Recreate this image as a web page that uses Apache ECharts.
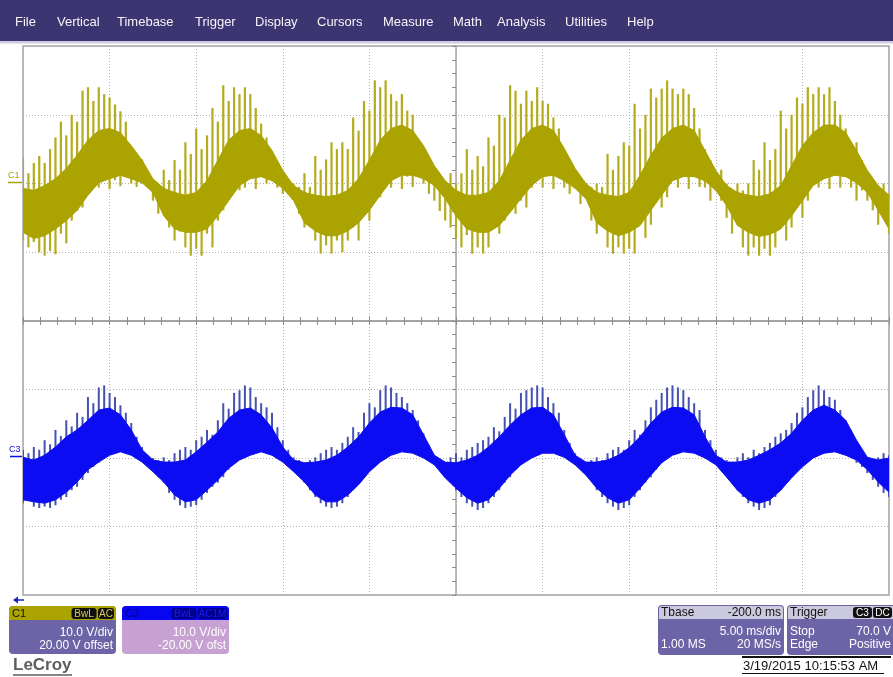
<!DOCTYPE html>
<html><head><meta charset="utf-8">
<script src="https://cdn.jsdelivr.net/npm/echarts@6/dist/echarts.min.js"></script>
<style>html,body{margin:0;padding:0;background:#fff;overflow:hidden}#main{width:893px;height:677px}</style>
</head><body><div id="main"></div>
<script>
// ---- Data (volts, read from the screen) ----
// time window of the screen, ms relative to trigger delay (-200 ms), 5 ms/div
const timeStartMs = -25, timeEndMs = 25;
// C1: peak-detected spike extremes (161 samples across the screen)
const c1SpikeTop = [3.8,1.5,3,4,3,5,6.7,9,7,10,
 9,13.5,14,12,14,13,12.5,11.5,10.5,9,
 5,4.3,3.5,1.5,0.5,-0.5,2,0.5,3.4,2,
 6,4.3,8,5,7,11,9,14.3,12,14,
 13,14,13,11,8.7,6.7,4.3,1.5,0,-1,
 0,-0.5,1.5,-0.5,4,2,3.5,6,5,6,
 5,9.6,7.7,12,10.6,15,14,15,13,12,
 13,10.6,10,6.3,3.8,1,0.5,-1,0,1.5,
 0,1.5,5,2,4,2.5,6.7,5.5,10,9.6,
 14.3,13.5,11.6,13.5,12,14,12,11.6,9.6,8,
 4.8,3.4,0,-1,0,-0.5,0,-0.5,4.3,2,
 4,6,5.5,11.6,8,10,13.8,12.5,13.8,15,
 13.8,13,13.8,13,11,8,5,3.4,0.5,2,
 0,-1.5,0,-1,0,3.4,2,6,3.4,5,
 10.6,8,10,12.5,11.6,14,13,14,13,14,
 12,10,8,5,6,3.4,1.5,0,-1.5,0,
 -1.5];
const c1SpikeBot = [-8.3,-9.3,-8.5,-10,-10.5,-9.8,-10.3,-7.3,-8.7,-5.4,
 -4,-3.5,-1,-0.6,-0.6,1,-0.8,0.5,-0.4,1,
 0,-0.5,0,-0.5,-2.5,-4.4,-3.5,-6.4,-8.3,-7,
 -9.3,-10.5,-9.5,-10.5,-7.3,-9.3,-5.4,-3.9,-1.5,-0.6,
 -1,-0.6,1.5,-0.8,1,0,0.5,-0.6,-1.5,-0.6,
 -1.5,-4.4,-6.4,-5,-8.3,-10.2,-9,-10.2,-8.3,-10,
 -8.3,-6.4,-8.3,-3.5,-5.4,-0.6,-2,-0.6,-0.6,1.5,
 -0.8,1,-0.5,1.5,0,-1.5,-2.5,-4,-5.4,-6.4,
 -8,-9.3,-7.5,-10.2,-9.3,-10.2,-9.3,-5.4,-7.3,-5.4,
 -2.5,-4.4,-2.5,-3.5,-0.6,2.3,-0.6,1.5,-0.8,1.5,
 -0.6,-1.5,-0.6,-3,-2,-5.4,-7.3,-6,-9.3,-10.2,
 -9.3,-10.2,-9.5,-10.2,-5.4,-7.9,-6,-1.5,-3.5,-2,
 1.9,-0.6,1.5,-0.8,1.9,-0.5,-0.6,-2.5,-1,-2.5,
 -5,-7.3,-6,-9.3,-10.5,-9.3,-10.5,-9.5,-10.5,-9.3,
 -6.4,-8.3,-6.4,-2.5,-5,-2.5,1.9,-0.6,1.5,-0.8,
 1.9,-0.6,1,-0.6,-2.5,-1,-2.5,-3.9,-6,-5,
 -7.3];
// C1: dense core of the trace (81 samples)
const c1CoreTop = [-0.7,-1.0,-0.3,0.7,2.2,4.1,6.3,7.7,8.0,7.4,
 5.5,3.4,0.7,-0.7,-1.3,-1.7,-1.3,0.4,3.4,6.3,
 7.7,8.0,7.0,4.8,1.9,-0.3,-1.3,-1.7,-1.9,-1.7,
 -1.0,0.7,3.4,6.3,8.0,8.5,7.7,5.5,2.6,0.4,
 -1.0,-1.7,-1.7,-1.3,0.4,3.4,6.3,8.0,8.5,7.7,
 5.1,2.2,0,-1.3,-1.7,-1.9,-1.3,1.2,4.1,6.6,
 8.0,8.5,7.7,4.8,1.9,-0.3,-1.3,-1.7,-1.9,-1.5,
 -0.3,2.6,5.5,7.4,8.5,8.5,7.4,4.8,1.9,-0.3,
 -1.7];
const c1CoreBot = [-7.1,-8.0,-7.6,-6.6,-5.4,-3.9,-1.7,0.1,0.7,1.2,
 0.7,0.1,-1.3,-4.7,-6.6,-7.1,-7.1,-6.6,-4.7,-2.5,
 -0.3,0.7,1.0,0.4,-0.7,-2.5,-5.7,-6.9,-7.6,-7.6,
 -6.9,-5.7,-3.9,-1.7,0.4,1.2,1.2,0.7,-0.3,-2.2,
 -4.7,-6.6,-7.1,-7.1,-6.1,-4.2,-2.2,-0.3,1.0,1.2,
 0.4,-0.7,-2.2,-5.7,-6.9,-7.6,-7.1,-6.1,-3.9,-1.7,
 0.4,1.0,1.0,0.4,-1.0,-3.2,-6.1,-7.1,-7.7,-7.4,
 -6.6,-4.7,-2.5,-0.3,0.7,1.2,1.0,0.1,-1.3,-3.9,
 -6.6];
// C3
const c3SpikeTop = [1.2,0.7,1.6,1.2,2.6,2.0,4.1,3.2,5.5,4.6,
 6.6,6.0,8.9,8.0,10.3,10.6,9.5,8.9,7.7,6.6,
 5.1,3.1,1.6,0.4,0,-0.3,0.1,-0.3,0.7,1.2,
 1.6,1.2,2.6,3.1,4.1,3.4,5.5,8.0,7.2,9.5,
 9.9,10.6,10.3,8.9,8.0,7.4,6.6,4.5,2.6,1.2,
 0.1,-0.3,-0.7,-0.3,0.1,0.7,1.2,1.6,1.2,2.2,
 3.1,4.5,3.8,6.6,8.0,7.4,9.9,10.6,10.3,9.5,
 8.9,8.0,7.0,5.5,3.6,1.9,0.1,-0.3,-0.7,0.1,
 0.7,0.1,1.2,1.6,2.2,2.6,3.1,4.5,3.9,6.0,
 8.0,7.2,9.5,9.9,10.3,10.6,10.3,8.9,8.0,6.6,
 4.1,2.2,0.7,-0.3,-0.7,-0.3,0.1,-0.3,0.7,1.2,
 1.6,1.2,2.6,4.1,3.4,5.5,7.4,8.5,9.5,10.3,
 10.6,10.3,9.9,8.9,8.0,7.0,4.1,2.6,1.2,0.1,
 -0.3,-0.7,0.1,0.7,0.1,1.2,0.7,1.6,2.2,3.1,
 3.6,4.1,5.1,6.6,7.4,8.9,9.9,10.6,9.9,8.9,
 8.5,7.0,5.5,4.1,2.2,0.7,0.1,-0.3,0.1,0.7,
 0.4];
const c3SpikeBot = [-6.6,-6.1,-7.1,-7.3,-7.1,-7.3,-6.9,-6.1,-5.7,-4.7,
 -4.2,-3.2,-2.2,-1.3,-0.7,0.1,0.7,1.2,1.5,1.6,
 1.2,0.4,-0.3,-1.0,-1.7,-2.8,-3.6,-5.1,-6.1,-6.9,
 -7.3,-7.1,-6.9,-6.1,-5.1,-4.2,-3.6,-2.8,-1.7,-0.7,
 -0.3,0.4,0.7,1.2,1.6,1.2,0.7,0.1,-0.3,-1.0,
 -1.7,-2.2,-3.6,-4.7,-5.7,-6.6,-7.1,-7.3,-7.1,-6.6,
 -5.7,-4.7,-3.6,-2.8,-1.7,-0.7,0.1,0.7,1.2,1.5,
 1.6,1.6,1.2,0.7,0.1,-0.3,-1.0,-1.7,-2.8,-3.6,
 -4.7,-5.7,-6.6,-7.1,-7.6,-7.3,-6.6,-5.7,-4.7,-3.6,
 -2.8,-1.7,-1.0,-0.3,0.4,0.9,1.2,1.6,1.2,0.7,
 0.4,-0.3,-0.7,-1.3,-2.2,-3.2,-4.7,-5.7,-6.6,-7.1,
 -7.6,-7.3,-6.9,-5.7,-4.7,-3.6,-2.8,-1.7,-0.7,0.1,
 0.7,1.2,1.6,1.5,1.2,0.7,0.4,-0.3,-0.7,-1.3,
 -2.2,-3.2,-4.7,-5.7,-6.6,-7.1,-7.6,-7.3,-6.9,-5.7,
 -4.7,-3.6,-2.8,-1.7,-1.0,0.1,0.7,1.2,1.6,1.5,
 1.2,0.7,0.4,0,-0.7,-1.3,-2.2,-3.2,-4.2,-5.1,
 -5.7];
const c3CoreTop = [0.1,-0.3,0.4,1.6,3.1,4.1,5.5,7.0,7.3,6.3,
 4.1,1.2,-0.3,-0.6,-0.6,-0.3,0.9,2.3,3.8,5.8,
 7.0,7.3,6.3,4.4,1.6,-0.3,-0.7,-0.6,-0.3,0.4,
 1.6,3.1,5.1,6.7,7.4,7.3,6.3,3.4,0.4,-0.6,
 -0.7,-0.3,0.4,1.6,3.1,4.8,6.3,7.3,7.4,6.3,
 3.4,0.4,-0.6,-0.6,-0.3,0.4,1.5,3.1,5.1,6.7,
 7.4,7.3,6.3,3.1,0.4,-0.6,-0.6,-0.3,0.4,1.2,
 2.2,3.6,5.5,7.0,7.7,7.0,5.5,2.6,0.1,-0.3,
 0];
const c3CoreBot = [-6.1,-6.4,-6.6,-6.1,-5.0,-3.5,-1.7,-0.6,0.4,0.9,
 0.4,-0.6,-2.0,-3.5,-5.4,-6.4,-6.1,-4.7,-3.2,-1.5,
 -0.3,0.4,0.9,0.4,-0.6,-2.0,-3.5,-5.4,-6.4,-6.4,
 -5.4,-3.9,-2.0,-0.6,0.4,0.9,0.7,0,-1.0,-2.9,
 -4.4,-5.8,-6.6,-6.1,-4.4,-2.5,-1.0,0,0.7,0.7,
 0.1,-1.0,-2.5,-4.4,-5.8,-6.6,-6.1,-4.4,-2.5,-0.7,
 0.4,0.9,0.7,0,-1.0,-2.8,-4.7,-6.1,-6.6,-6.1,
 -4.7,-2.9,-1.3,0,0.7,0.9,0.4,-0.3,-1.7,-3.5,
 -5.0];
const menuItems = ['File','Vertical','Timebase','Trigger','Display','Cursors','Measure','Math','Analysis','Utilities','Help'];
const c1Info = {name:'C1', badges:['BwL','AC'], vdiv:'10.0 V/div', offset:'20.00 V offset'};
const c3Info = {name:'C3', badges:['BwL','AC1M'], vdiv:'10.0 V/div', offset:'-20.00 V ofst'};
const tbaseInfo = {title:'Tbase', delay:'-200.0 ms', tdiv:'5.00 ms/div', mem:'1.00 MS', rate:'20 MS/s'};
const trigInfo = {title:'Trigger', badges:['C3','DC'], mode:'Stop', level:'70.0 V', type:'Edge', slope:'Positive'};
const timestamp = '3/19/2015 10:15:53 AM';

// ---- Layout / style ----
const FONT = "'Liberation Sans', Arial, sans-serif";
const menuX = [15,57,117,195,255,317,383,453,497,565,627];
const C1COL = '#aba300', C1SPK = '#b4ac1e';
const C3COL = '#0c0cf2', C3SPK = '#4552b2';
const GRIDC = '#a4a4a4';

function timesFor(arr){ const st=(timeEndMs-timeStartMs)/(arr.length-1); return arr.map((v,i)=>timeStartMs+i*st); }

function bandSeries(gi, tops, bots, color, z){
  const ts = timesFor(tops);
  return {type:'custom', xAxisIndex:gi, yAxisIndex:gi, z:z, silent:true, clip:true,
    data: tops.map((v,i)=>[ts[i], bots[i], v]), encode:{x:0,y:[1,2]},
    renderItem:function(params, api){
      if (params.dataIndex !== 0) return {type:'group', children:[]};
      const pts=[];
      for (let i=0;i<tops.length;i++) pts.push(api.coord([ts[i], tops[i]]));
      for (let i=bots.length-1;i>=0;i--) pts.push(api.coord([ts[i], bots[i]]));
      return {type:'polygon', shape:{points:pts}, style:{fill:color, stroke:color, lineWidth:1}};
    }};
}
function spikeSeries(gi, tops, bots, color, w, z){
  const ts = timesFor(tops);
  return {type:'custom', xAxisIndex:gi, yAxisIndex:gi, z:z, silent:true, clip:true,
    data: tops.map((v,i)=>[ts[i], bots[i], v]), encode:{x:0,y:[1,2]},
    renderItem:function(params, api){
      const a=api.coord([api.value(0), api.value(1)]), b=api.coord([api.value(0), api.value(2)]);
      return {type:'line', shape:{x1:a[0],y1:a[1],x2:b[0],y2:b[1]}, style:{stroke:color, lineWidth:w}};
    }};
}
function xAx(gi,pos){
  return {gridIndex:gi, type:'value', min:timeStartMs, max:timeEndMs, interval:5, position:pos,
    axisLine:{show:true,onZero:false,lineStyle:{color:GRIDC,width:1.5}},
    axisTick:{show:true,inside:true,length:4,lineStyle:{color:'#8c8c8c'}},
    minorTick:{show:true,splitNumber:5,length:4,lineStyle:{color:'#8c8c8c'}},
    axisLabel:{show:false},
    splitLine:{show:true,lineStyle:{color:'#b0b0b0',type:[1,2],width:1}}};
}
function yAx(gi){
  return {gridIndex:gi, type:'value', min:-20, max:20, interval:10,
    axisLine:{show:true,onZero:true,lineStyle:{color:GRIDC,width:1.5}},
    axisTick:{show:true,length:4,lineStyle:{color:'#8c8c8c'}},
    minorTick:{show:true,splitNumber:5,length:4,lineStyle:{color:'#8c8c8c'}},
    axisLabel:{show:false},
    splitLine:{show:true,lineStyle:{color:'#b0b0b0',type:[1,2],width:1}}};
}
function txt(x,y,t,opt){
  return Object.assign({type:'text', x:x, y:y, silent:true,
    style:Object.assign({text:t, font:'12px '+FONT, fill:'#fff', verticalAlign:'middle'}, opt||{})});
}
function badge(x,y,w,t,bg,fg){
  return [{type:'rect', shape:{x:x,y:y,width:w,height:11,r:3}, style:{fill:bg}},
    txt(x+w/2,y+6,t,{font:'10px '+FONT, fill:fg, align:'center'})];
}
function chanBox(left, info, headCol, bodyCol, headText, badgeBg, badgeFg, bw){
  const ch=[{type:'rect', shape:{x:0,y:0,width:107,height:48,r:4}, style:{fill:bodyCol}},
    {type:'rect', shape:{x:0,y:0,width:107,height:14,r:[4,4,0,0]}, style:{fill:headCol}},
    txt(3,7.5,info.name,{font:'11px '+FONT, fill:headText})];
  let bx=105;
  for (let k=info.badges.length-1;k>=0;k--){ bx-=bw[k]; ch.push(...badge(bx,2,bw[k],info.badges[k],badgeBg,badgeFg)); bx-=1.5; }
  ch.push(txt(104,27,info.vdiv,{align:'right'}));
  ch.push(txt(104,40,info.offset,{align:'right'}));
  return {type:'group', x:left, y:606, children:ch};
}

const graphic = [
  {type:'rect', shape:{x:0,y:0,width:893,height:41}, style:{fill:'#3d3571'}, silent:true},
  {type:'rect', shape:{x:0,y:41,width:893,height:2.5}, style:{fill:'#cfcde0'}, silent:true},
];
menuItems.forEach((m,k)=>graphic.push(txt(menuX[k],22,m,{font:'13px '+FONT, fill:'#f4f4f8'})));
// channel ground markers
graphic.push(txt(8,176,'C1',{font:'9px '+FONT, fill:C1COL}));
graphic.push({type:'line', shape:{x1:8,y1:182.5,x2:22,y2:182.5}, style:{stroke:C1COL,lineWidth:1.5}});
graphic.push(txt(9,450,'C3',{font:'9px '+FONT, fill:C3COL}));
graphic.push({type:'line', shape:{x1:10,y1:456.5,x2:22,y2:456.5}, style:{stroke:C3COL,lineWidth:1.5}});
// arrow
graphic.push({type:'line', shape:{x1:14,y1:600,x2:24,y2:600}, style:{stroke:'#2020c0',lineWidth:1.5}});
graphic.push({type:'polygon', shape:{points:[[13,600],[18,596.5],[18,603.5]]}, style:{fill:'#2020c0'}});
// channel boxes
graphic.push(chanBox(9, c1Info, C1COL, '#6c64a6', '#111', '#111', '#d2cb55', [25,16]));
graphic.push(chanBox(122, c3Info, '#0606f0', '#c7a1d1', '#00008a', '#000090', '#1a1af0', [25,29]));
// timebase box
graphic.push({type:'group', x:658, y:605, children:[
  {type:'rect', shape:{x:0,y:0,width:126,height:50,r:4}, style:{fill:'#6c64a6'}},
  {type:'rect', shape:{x:1,y:1,width:124,height:13,r:[3,3,0,0]}, style:{fill:'#cbc9dd'}},
  txt(3,8,tbaseInfo.title,{fill:'#111'}),
  txt(123,8,tbaseInfo.delay,{fill:'#111',align:'right'}),
  txt(123,27,tbaseInfo.tdiv,{align:'right'}),
  txt(3,40,tbaseInfo.mem,{}),
  txt(123,40,tbaseInfo.rate,{align:'right'})
]});
// trigger box
const trig = [{type:'rect', shape:{x:0,y:0,width:110,height:50,r:4}, style:{fill:'#6c64a6'}},
  {type:'rect', shape:{x:1,y:1,width:108,height:13,r:[3,3,0,0]}, style:{fill:'#cbc9dd'}},
  txt(3,8,trigInfo.title,{fill:'#111'})];
trig.push(...badge(66,2,19,trigInfo.badges[0],'#111','#fff'));
trig.push(...badge(86,2,19,trigInfo.badges[1],'#111','#fff'));
trig.push(txt(3,27,trigInfo.mode,{}), txt(104,27,trigInfo.level,{align:'right'}),
  txt(3,40,trigInfo.type,{}), txt(104,40,trigInfo.slope,{align:'right'}));
graphic.push({type:'group', x:787, y:605, children:trig});
// timestamp
graphic.push({type:'line', shape:{x1:742,y1:657,x2:891,y2:657}, style:{stroke:'#111',lineWidth:2}});
graphic.push(txt(743,666,timestamp,{font:'13px '+FONT, fill:'#111'}));
graphic.push({type:'line', shape:{x1:742,y1:673.5,x2:884,y2:673.5}, style:{stroke:'#111',lineWidth:1.2}});
// logo
graphic.push(txt(13,665,'LeCroy',{font:'bold 17px '+FONT, fill:'#5e5e5e'}));
graphic.push({type:'line', shape:{x1:13,y1:675,x2:72,y2:675}, style:{stroke:'#5e5e5e',lineWidth:1.5}});

const chart = echarts.init(document.getElementById('main'), null, {renderer:'canvas'});
chart.setOption({
  animation:false,
  backgroundColor:'#ffffff',
  grid:[
    {left:23, top:46, width:866, height:275, show:true, borderColor:GRIDC, borderWidth:1.5, backgroundColor:'rgba(0,0,0,0)'},
    {left:23, top:321, width:866, height:274, show:true, borderColor:GRIDC, borderWidth:1.5, backgroundColor:'rgba(0,0,0,0)'}
  ],
  xAxis:[xAx(0,'bottom'), xAx(1,'top')],
  yAxis:[yAx(0), yAx(1)],
  series:[
    spikeSeries(0, c1SpikeTop, c1SpikeBot, C1SPK, 2.2, 2),
    bandSeries(0, c1CoreTop, c1CoreBot, C1COL, 3),
    spikeSeries(1, c3SpikeTop, c3SpikeBot, C3SPK, 2.0, 2),
    bandSeries(1, c3CoreTop, c3CoreBot, C3COL, 3)
  ],
  graphic: graphic
});
</script></body></html>
